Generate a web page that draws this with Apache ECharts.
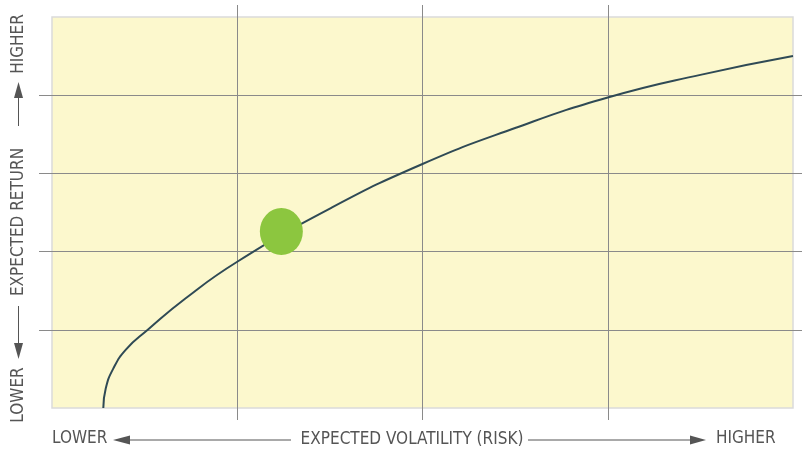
<!DOCTYPE html>
<html>
<head>
<meta charset="utf-8">
<style>
  html, body { margin: 0; padding: 0; background: #fff; }
  #chart { width: 802px; height: 450px; }
</style>
<script src="https://cdn.jsdelivr.net/npm/echarts@6/dist/echarts.min.js"></script>
</head>
<body>
<div id="chart"></div>
<script>
(function () {
  var ink = '#555555';
  var gridLine = '#8a8a8a';
  var font = '"Liberation Sans Narrow", "DejaVu Sans Condensed", sans-serif';

  // curve (volatility units 0-4, return units 0-5)
  var curveX = [0.277, 0.29, 0.33, 0.40, 0.517, 0.72, 1.0, 1.5, 2.0, 2.5, 3.0, 3.5, 4.0];
  var curveY = [0, 0.25, 0.5, 0.75, 1.0, 1.4, 1.87, 2.55, 3.12, 3.58, 3.97, 4.26, 4.5];
  // the green portfolio marker
  var dotX = [1.238];
  var dotY = [2.256];
  var xTicks = [1, 2, 3];
  var yTicks = [1, 2, 3, 4];

  var chart = echarts.init(document.getElementById('chart'), null, { renderer: 'canvas' });

  function axisBase(ticks, len) {
    return {
      axisLine: { show: false, onZero: false },
      axisLabel: { show: false },
      axisTick: { show: true, customValues: ticks, length: len, lineStyle: { color: gridLine, width: 1 } }
    };
  }

  chart.setOption({
    animation: false,
    grid: {
      left: 52, right: 9, top: 17, bottom: 42,
      show: true,
      backgroundColor: '#fcf8cd',
      borderColor: '#dadada',
      borderWidth: 1.5
    },
    xAxis: [
      Object.assign({
        type: 'value', min: 0, max: 4, interval: 1, position: 'bottom',
        splitLine: { show: true, lineStyle: { color: gridLine, width: 1 } }
      }, axisBase(xTicks, 12)),
      Object.assign({
        type: 'value', min: 0, max: 4, interval: 1, position: 'top',
        splitLine: { show: false }
      }, axisBase(xTicks, 12))
    ],
    yAxis: [
      Object.assign({
        type: 'value', min: 0, max: 5, interval: 1, position: 'left',
        splitLine: { show: true, lineStyle: { color: gridLine, width: 1 } }
      }, axisBase(yTicks, 13)),
      Object.assign({
        type: 'value', min: 0, max: 5, interval: 1, position: 'right',
        splitLine: { show: false }
      }, axisBase(yTicks, 10))
    ],
    series: [
      {
        type: 'line',
        data: curveX.map(function (x, i) { return [x, curveY[i]]; }),
        smooth: 0.5,
        showSymbol: false,
        clip: false,
        lineStyle: { color: '#2f4a55', width: 2 },
        z: 3
      },
      {
        type: 'scatter',
        xAxisIndex: 1,
        yAxisIndex: 1,
        data: dotX.map(function (x, i) { return [x, dotY[i]]; }),
        symbol: 'circle',
        symbolSize: [43, 47],
        itemStyle: { color: '#8cc63f', opacity: 1 },
        z: 4
      }
    ],
    graphic: [
      // bottom caption
      { type: 'text', left: 52, top: 430, style: { text: 'LOWER', font: '17px ' + font, fill: ink } },
      { type: 'polygon', shape: { points: [[113, 440], [130, 435.5], [130, 444.5]] }, style: { fill: ink } },
      { type: 'line', shape: { x1: 130, y1: 440, x2: 291, y2: 440 }, style: { stroke: ink, lineWidth: 1 } },
      { type: 'text', x: 412, y: 440, style: { text: 'EXPECTED VOLATILITY (RISK)', font: '17px ' + font, fill: ink, align: 'center', verticalAlign: 'middle' } },
      { type: 'line', shape: { x1: 528, y1: 440, x2: 692, y2: 440 }, style: { stroke: ink, lineWidth: 1 } },
      { type: 'polygon', shape: { points: [[706, 440], [690, 435.5], [690, 444.5]] }, style: { fill: ink } },
      { type: 'text', left: 716, top: 430, style: { text: 'HIGHER', font: '17px ' + font, fill: ink } },
      // left caption (rotated)
      { type: 'text', x: 19, y: 44, rotation: Math.PI / 2, style: { text: 'HIGHER', font: '17px ' + font, fill: ink, align: 'center', verticalAlign: 'middle' } },
      { type: 'polygon', shape: { points: [[18.5, 82], [14, 98], [23, 98]] }, style: { fill: ink } },
      { type: 'line', shape: { x1: 18.5, y1: 98, x2: 18.5, y2: 126 }, style: { stroke: ink, lineWidth: 1 } },
      { type: 'text', x: 19, y: 222, rotation: Math.PI / 2, style: { text: 'EXPECTED RETURN', font: '17px ' + font, fill: ink, align: 'center', verticalAlign: 'middle' } },
      { type: 'line', shape: { x1: 18.5, y1: 306, x2: 18.5, y2: 343 }, style: { stroke: ink, lineWidth: 1 } },
      { type: 'polygon', shape: { points: [[18.5, 359], [14, 343], [23, 343]] }, style: { fill: ink } },
      { type: 'text', x: 19, y: 395, rotation: Math.PI / 2, style: { text: 'LOWER', font: '17px ' + font, fill: ink, align: 'center', verticalAlign: 'middle' } }
    ]
  });
})();
</script>
</body>
</html>
